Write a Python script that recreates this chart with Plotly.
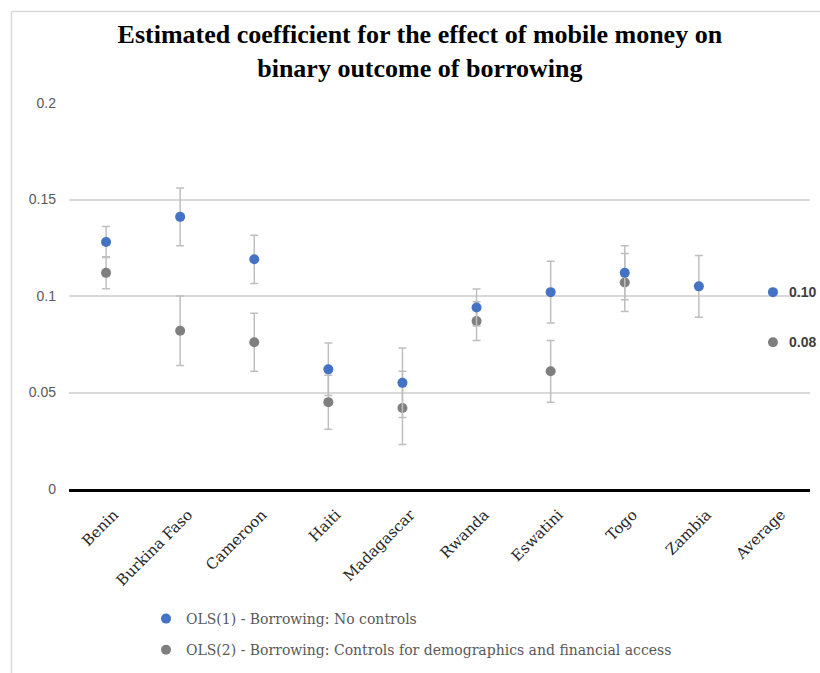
import plotly.graph_objects as go

categories = ["Benin", "Burkina Faso", "Cameroon", "Haiti", "Madagascar",
              "Rwanda", "Eswatini", "Togo", "Zambia", "Average"]

ols1 = [0.128, 0.141, 0.119, 0.062, 0.055, 0.094, 0.102, 0.112, 0.105, 0.102]
ols1_err = [0.008, 0.015, 0.0125, 0.0136, 0.018, 0.0096, 0.016, 0.014, 0.016, None]

ols2 = [0.112, 0.082, 0.076, 0.045, 0.042, 0.087, 0.061, 0.107, None, 0.076]
ols2_err = [0.0083, 0.018, 0.015, 0.014, 0.019, 0.010, 0.016, 0.015, None, None]

avg_labels = ["0.10", "0.08"]

name1 = "OLS(1) - Borrowing: No controls"
name2 = "OLS(2) - Borrowing: Controls for demographics and financial access"

blue = "#4472C4"
grey = "#7F7F7F"
err_col = "#BFBFBF"

xs = list(range(len(categories)))

fig = go.Figure()
fig.add_trace(go.Scatter(
    x=xs, y=ols2, mode="markers", name=name2,
    marker=dict(color=grey, size=10),
    error_y=dict(type="data", array=[e if e is not None else 0 for e in ols2_err],
                 visible=True, color=err_col, thickness=1.5, width=4),
    showlegend=False,
))
fig.add_trace(go.Scatter(
    x=xs, y=ols1, mode="markers", name=name1,
    marker=dict(color=blue, size=10),
    error_y=dict(type="data", array=[e if e is not None else 0 for e in ols1_err],
                 visible=True, color=err_col, thickness=1.5, width=4),
    showlegend=False,
))
# legend entries
fig.add_trace(go.Scatter(x=[None], y=[None], mode="markers", name=name1,
                         marker=dict(color=blue, size=10), legendgroup="a", legendrank=1))
fig.add_trace(go.Scatter(x=[None], y=[None], mode="markers", name=name2,
                         marker=dict(color=grey, size=10), legendgroup="b", legendrank=2))

# average labels
avg_i = categories.index("Average")
for val, lab in zip([ols1[avg_i], ols2[avg_i]], avg_labels):
    fig.add_annotation(x=avg_i, y=val, text="<b>" + lab + "</b>", showarrow=False,
                       xanchor="left", yanchor="middle", xshift=14,
                       font=dict(family="Liberation Sans, Arial", size=14, color="#404040"))

# frame lines
fx = (11.5 - 69) / 741
fy = (489 - 11.5) / 386
fig.add_shape(type="line", xref="paper", yref="paper", x0=fx, x1=fx, y0=-1, y1=fy,
              line=dict(color="#D9D9D9", width=1.5))
fig.add_shape(type="line", xref="paper", yref="paper", x0=fx, x1=1.02, y0=fy, y1=fy,
              line=dict(color="#D9D9D9", width=1.5))

fig.update_layout(
    width=820, height=673,
    margin=dict(l=69, r=10, t=103, b=184, autoexpand=False),
    paper_bgcolor="white", plot_bgcolor="white",
    title=dict(text="Estimated coefficient for the effect of mobile money on<br>binary outcome of borrowing",
               x=0.512, xanchor="center", y=1 - 43 / 673, yanchor="middle",
               font=dict(family="Liberation Serif, serif", size=26, color="#000000", weight="bold")),
    xaxis=dict(range=[-0.5, len(categories) - 0.5], tickmode="array", tickvals=xs,
               ticktext=categories, tickangle=-45, showgrid=False, zeroline=False,
               showline=True, linecolor="#000000", linewidth=3, automargin=False,
               ticklabelstandoff=8, ticklabelshift=8,
               tickfont=dict(family="DejaVu Serif, serif", size=15, color="#262626")),
    yaxis=dict(range=[0, 0.2], tickvals=[0, 0.05, 0.1, 0.15, 0.2],
               ticktext=["0", "0.05", "0.1", "0.15", "0.2"], automargin=False,
               showgrid=True, gridcolor="#D9D9D9", gridwidth=1.5, zeroline=False,
               ticklabelstandoff=12,
               tickfont=dict(family="Liberation Sans, Arial", size=14, color="#595959")),
    showlegend=True,
    legend=dict(x=(146 - 69) / 741, xanchor="left", y=(489 - 603) / 386, yanchor="top",
                orientation="v", tracegroupgap=10, bgcolor="rgba(0,0,0,0)",
                font=dict(family="DejaVu Serif, serif", size=14, color="#595959")),
)

fig.write_html("out.html")
